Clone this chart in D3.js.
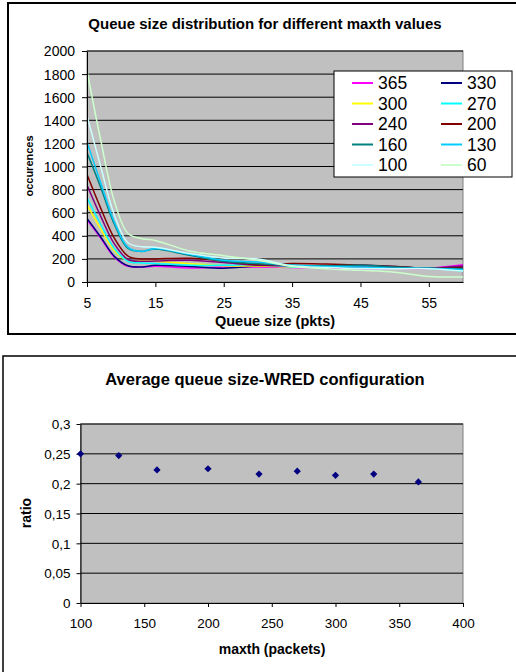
<!DOCTYPE html>
<html><head><meta charset="utf-8">
<script src="https://cdn.jsdelivr.net/npm/d3@7"></script>
<style>body{margin:0;background:#fff}svg{display:block;font-family:"Liberation Sans",Arial,sans-serif}</style>
</head><body><svg id="c" width="516" height="672"></svg>
<script>
// ---- Top chart data ----
const queueSizes = [5, 7, 9, 11, 13, 15, 20, 25, 30, 35, 40, 45, 50, 55, 60];
const seriesNames = ["365", "330", "300", "270", "240", "200", "160", "130", "100", "60"];
const seriesColors = ["#FF00FF", "#000080", "#FFFF00", "#00FFFF", "#800080", "#800000", "#008080", "#00CCFF", "#CCFFFF", "#CCFFCC"];
const occ365 = [540, 380, 215, 135, 130, 136, 121, 130, 130, 125, 120, 116, 118, 120, 150];
const occ330 = [550, 390, 222, 140, 130, 145, 135, 120, 139, 139, 140, 145, 135, 120, 130];
const occ300 = [670, 460, 270, 185, 185, 180, 159, 140, 139, 130, 128, 130, 125, 120, 116];
const occ270 = [730, 500, 290, 180, 165, 160, 145, 145, 150, 130, 130, 130, 120, 118, 95];
const occ240 = [840, 570, 330, 195, 180, 182, 188, 168, 145, 139, 135, 130, 125, 120, 139];
const occ200 = [930, 640, 380, 225, 200, 200, 205, 182, 150, 160, 155, 145, 135, 120, 125];
const occ160 = [1120, 820, 500, 290, 265, 285, 231, 180, 159, 145, 140, 145, 130, 120, 116];
const occ130 = [1210, 860, 520, 300, 265, 290, 240, 188, 173, 145, 135, 130, 120, 118, 107];
const occ100 = [1440, 1000, 580, 340, 305, 300, 246, 208, 200, 140, 125, 116, 115, 115, 95];
const occ60  = [1830, 1230, 700, 420, 375, 360, 268, 228, 188, 135, 115, 101, 85, 48, 43];
const seriesValues = [occ365, occ330, occ300, occ270, occ240, occ200, occ160, occ130, occ100, occ60];
const topXTicks = [5, 15, 25, 35, 45, 55];
const topYTicks = [0, 200, 400, 600, 800, 1000, 1200, 1400, 1600, 1800, 2000];

// ---- Bottom chart data ----
const maxthValues = [100, 130, 160, 200, 240, 270, 300, 330, 365];
const ratioValues = [0.250, 0.247, 0.223, 0.225, 0.216, 0.221, 0.214, 0.216, 0.203];
const botXTicks = [100, 150, 200, 250, 300, 350, 400];
const botYTicks = [0, 0.05, 0.1, 0.15, 0.2, 0.25, 0.3];

const svg = d3.select("#c");

// ===== Top chart =====
svg.append("rect").attr("x", 8).attr("y", 3).attr("width", 520).attr("height", 331)
  .attr("fill", "#fff").attr("stroke", "#000").attr("stroke-width", 2);

const tL = 87, tR = 463, tT = 51, tB = 282;
const xT = d3.scaleLinear().domain([5, 60]).range([tL, tR]);
const yT = d3.scaleLinear().domain([0, 2000]).range([tB, tT]);

svg.append("rect").attr("x", tL).attr("y", tT).attr("width", tR - tL).attr("height", tB - tT)
  .attr("fill", "#C0C0C0").attr("stroke", "#808080").attr("stroke-width", 1);

const gT = svg.append("g");
gT.selectAll("line.grid").data(topYTicks.filter(d => d > 0)).join("line")
  .attr("x1", tL).attr("x2", tR).attr("y1", d => yT(d)).attr("y2", d => yT(d))
  .attr("stroke", "#000").attr("stroke-width", 1);

const line = d3.line().x((d, i) => xT(queueSizes[i])).y(d => yT(d)).curve(d3.curveCatmullRom.alpha(0.5));
svg.append("clipPath").attr("id", "clipT").append("rect")
  .attr("x", tL).attr("y", tT - 5).attr("width", tR - tL + 1).attr("height", tB - tT + 5);
gT.append("g").attr("clip-path", "url(#clipT)").selectAll("path").data(seriesValues).join("path")
  .attr("d", d => line(d)).attr("fill", "none")
  .attr("stroke", (d, i) => seriesColors[i]).attr("stroke-width", 1.5);

const axXT = svg.append("g").attr("transform", `translate(0,${tB})`)
  .call(d3.axisBottom(xT).tickValues(topXTicks).tickSize(5).tickSizeOuter(0));
const axYT = svg.append("g").attr("transform", `translate(${tL},0)`)
  .call(d3.axisLeft(yT).tickValues(topYTicks).tickFormat(d3.format("d")).tickSize(5).tickSizeOuter(0));
[axXT, axYT].forEach(a => {
  a.select(".domain").attr("stroke", "#000").attr("stroke-width", 1);
  a.selectAll(".tick line").attr("stroke", "#000");
  a.selectAll("text").attr("font-size", 14).attr("fill", "#000").attr("font-family", "Liberation Sans, Arial, sans-serif");
});
axXT.selectAll("text").attr("dy", null).attr("y", 26);
axYT.selectAll("text").attr("x", -12).attr("dy", "0.35em");

svg.append("text").attr("x", 265).attr("y", 29).attr("text-anchor", "middle")
  .attr("font-size", 15).attr("font-weight", "bold").text("Queue size distribution for different maxth values");
svg.append("text").attr("x", 275).attr("y", 326).attr("text-anchor", "middle")
  .attr("font-size", 14.5).attr("font-weight", "bold").text("Queue size (pkts)");
svg.append("text").attr("transform", "translate(33,166) rotate(-90)").attr("text-anchor", "middle")
  .attr("font-size", 11).attr("font-weight", "bold").text("occurences");

// Legend
const lg = svg.append("g");
lg.append("rect").attr("x", 334).attr("y", 71).attr("width", 178).attr("height", 106)
  .attr("fill", "#fff").attr("stroke", "#000").attr("stroke-width", 1);
const legRows = [83, 103.5, 124, 144.5, 165];
seriesNames.forEach((n, i) => {
  const col = i % 2, row = Math.floor(i / 2);
  const lx = col === 0 ? 352 : 441;
  const y = legRows[row];
  lg.append("line").attr("x1", lx).attr("x2", lx + 21).attr("y1", y).attr("y2", y)
    .attr("stroke", seriesColors[i]).attr("stroke-width", 2);
  lg.append("text").attr("x", lx + 26).attr("y", y).attr("dy", "0.36em")
    .attr("font-size", 17.5).text(n);
});

// ===== Bottom chart =====
svg.append("rect").attr("x", 3).attr("y", 356).attr("width", 530).attr("height", 330)
  .attr("fill", "#fff").attr("stroke", "#000").attr("stroke-width", 1.5);

const bL = 80.5, bR = 463, bT = 424, bB = 603;
const xB = d3.scaleLinear().domain([100, 400]).range([bL, bR]);
const yB = d3.scaleLinear().domain([0, 0.3]).range([bB, bT]);

svg.append("rect").attr("x", bL).attr("y", bT).attr("width", bR - bL).attr("height", bB - bT)
  .attr("fill", "#C0C0C0").attr("stroke", "#808080").attr("stroke-width", 1);
svg.append("g").selectAll("line").data(botYTicks.filter(d => d > 0)).join("line")
  .attr("x1", bL).attr("x2", bR).attr("y1", d => yB(d)).attr("y2", d => yB(d))
  .attr("stroke", "#000").attr("stroke-width", 1);

const fmt = d => d3.format(".2~f")(d).replace(".", ",");
const axXB = svg.append("g").attr("transform", `translate(0,${bB})`)
  .call(d3.axisBottom(xB).tickValues(botXTicks).tickSize(4).tickSizeOuter(0));
const axYB = svg.append("g").attr("transform", `translate(${bL},0)`)
  .call(d3.axisLeft(yB).tickValues(botYTicks).tickFormat(fmt).tickSize(4).tickSizeOuter(0));
[axXB, axYB].forEach(a => {
  a.select(".domain").attr("stroke", "#000").attr("stroke-width", 1);
  a.selectAll(".tick line").attr("stroke", "#000");
  a.selectAll("text").attr("font-size", 13.5).attr("fill", "#000").attr("font-family", "Liberation Sans, Arial, sans-serif");
});
axXB.selectAll("text").attr("dy", null).attr("y", 25);
axYB.selectAll("text").attr("x", -10).attr("dy", "0.35em");

const diamond = d3.symbol().type(d3.symbolSquare).size(26);
svg.append("g").selectAll("path").data(maxthValues).join("path")
  .attr("transform", (d, i) => `translate(${xB(d)},${yB(ratioValues[i])}) rotate(45)`)
  .attr("d", diamond).attr("fill", "#000080");

svg.append("text").attr("x", 265).attr("y", 385).attr("text-anchor", "middle")
  .attr("font-size", 16.5).attr("font-weight", "bold").text("Average queue size-WRED configuration");
svg.append("text").attr("x", 272).attr("y", 654).attr("text-anchor", "middle")
  .attr("font-size", 14).attr("font-weight", "bold").text("maxth (packets)");
svg.append("text").attr("transform", "translate(31,513) rotate(-90)").attr("text-anchor", "middle")
  .attr("font-size", 14).attr("font-weight", "bold").text("ratio");
</script></body></html>
